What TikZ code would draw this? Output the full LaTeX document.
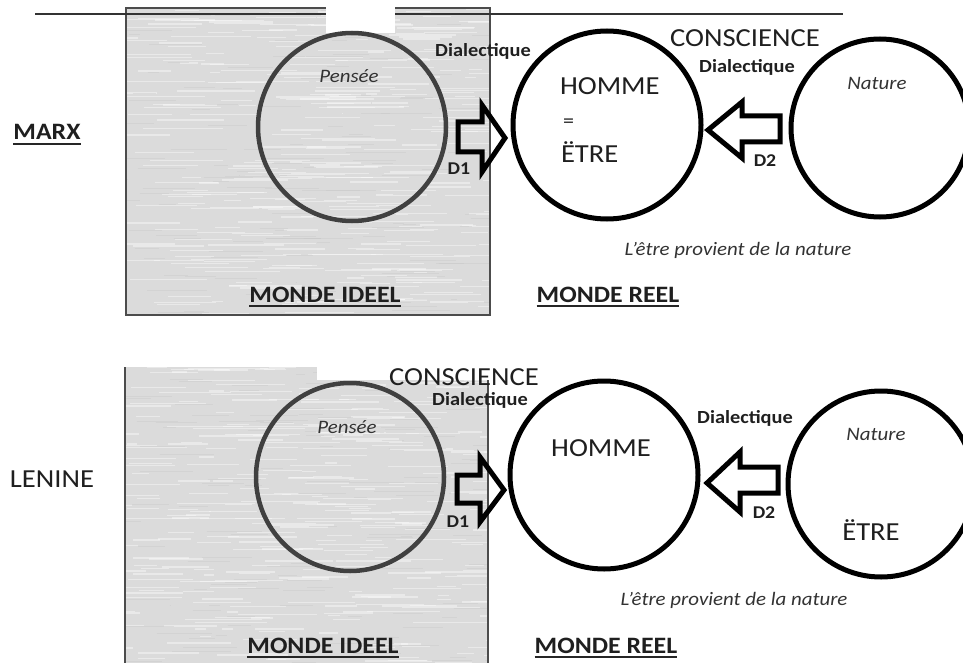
\documentclass[tikz,border=0pt]{standalone}
\usepackage{fontspec}
\setmainfont{Carlito}[FakeStretch=1.1]
\begin{document}
\begin{tikzpicture}[x=1pt,y=-1pt,
  t/.style={inner sep=0pt, outer sep=0pt, anchor=base, text=black!88},
  big/.style={t, font=\fontsize{26}{28}\selectfont},
  hd/.style={t, font=\bfseries\fontsize{23.5}{26}\selectfont},
  dia/.style={t, font=\bfseries\fontsize{18.5}{20}\selectfont},
  dd/.style={t, font=\bfseries\fontsize{18}{20}\selectfont},
  itl/.style={t, font=\itshape\fontsize{19}{21}\selectfont, text=black!80},
  pens/.style={circle, draw=black!75, line width=4.5pt, inner sep=0pt},
  reel/.style={circle, draw=black, line width=5pt, inner sep=0pt},
  blockarrow/.style={draw=black, line width=5pt, line join=miter},
  ulline/.style={draw=black!85, line width=1.8pt},
  boxgrey/.style={fill=black!14},
]
\useasboundingbox (0,0) rectangle (963,663);
\fill[white] (0,0) rectangle (963,663);

% ---------- top grey box ----------
\fill[boxgrey] (126,8) rectangle (490,315);
\begin{scope}
  \clip (126,8) rectangle (490,315);
  \pgfmathsetseed{3}
  \foreach \i in {1,...,320}{
    \pgfmathsetmacro{\xx}{110+rnd*380}
    \pgfmathsetmacro{\yy}{8+rnd*307}
    \pgfmathsetmacro{\ll}{10+rnd*70}
    \draw[white, opacity=0.4, line width=1.3pt] (\xx,\yy) -- ++(\ll,0);
  }
  \foreach \i in {1,...,120}{
    \pgfmathsetmacro{\xx}{110+rnd*380}
    \pgfmathsetmacro{\yy}{8+rnd*307}
    \pgfmathsetmacro{\ll}{10+rnd*50}
    \draw[black!22, opacity=0.4, line width=1pt] (\xx,\yy) -- ++(\ll,0);
  }
\end{scope}
\draw[black!70, line width=1.3pt] (126,8) rectangle (490,315);
\draw[black!80, line width=1.5pt] (35,14) -- (843,14);
\fill[white] (326,6) rectangle (395,33);

% ---------- bottom grey box ----------
\fill[boxgrey] (125,367) rectangle (488,663);
\begin{scope}
  \clip (125,367) rectangle (488,663);
  \pgfmathsetseed{11}
  \foreach \i in {1,...,320}{
    \pgfmathsetmacro{\xx}{110+rnd*380}
    \pgfmathsetmacro{\yy}{367+rnd*296}
    \pgfmathsetmacro{\ll}{10+rnd*70}
    \draw[white, opacity=0.4, line width=1.3pt] (\xx,\yy) -- ++(\ll,0);
  }
  \foreach \i in {1,...,120}{
    \pgfmathsetmacro{\xx}{110+rnd*380}
    \pgfmathsetmacro{\yy}{367+rnd*296}
    \pgfmathsetmacro{\ll}{10+rnd*50}
    \draw[black!22, opacity=0.4, line width=1pt] (\xx,\yy) -- ++(\ll,0);
  }
\end{scope}
\fill[white] (317,366) rectangle (490,380);
\draw[black!70, line width=1.3pt] (125,367) -- (125,663);
\draw[black!70, line width=1.3pt] (488,380) -- (488,663);

% ---------- circles ----------
\node[pens, minimum size=188pt] (pensee1) at (352,127) {};
\node[reel, minimum size=188pt] (homme1) at (607,125) {};
\node[reel, minimum size=178pt] (nature1) at (880,128) {};
\node[pens, minimum size=188pt] (pensee2) at (350,477) {};
\node[reel, minimum size=188pt] (homme2) at (604,475) {};
\node[reel, minimum size=186pt] (nature2) at (881,484) {};

% ---------- block arrows ----------
\draw[blockarrow] (458,122) -- (482,122) -- (482,105) -- (505,138) -- (482,172) -- (482,152) -- (458,152) -- cycle;
\draw[blockarrow] (780,116) -- (742,116) -- (742,102) -- (708,130) -- (742,158) -- (742,142) -- (780,142) -- cycle;
\draw[blockarrow] (457,475) -- (480,475) -- (480,457) -- (504,490) -- (480,522) -- (480,503) -- (457,503) -- cycle;
\draw[blockarrow] (778,467) -- (740,467) -- (740,452) -- (707,483) -- (740,512) -- (740,493) -- (778,493) -- cycle;

% ---------- texts top ----------
\node[hd] (marx) at (47,140) {MARX};
\draw[ulline] ([yshift=-4pt]marx.base west) -- ([yshift=-4pt]marx.base east);
\node[itl] (pen1) at (349,83) {Pensée};
\node[dia] (dia1) at (483,57) {Dialectique};
\node[hd] (ideel1) at (325,302) {MONDE IDEEL};
\draw[ulline] ([yshift=-4pt]ideel1.base west) -- ([yshift=-4pt]ideel1.base east);
\node[big] (consc1) at (745,47) {CONSCIENCE};
\node[dia] (dia2) at (747,73) {Dialectique};
\node[big, anchor=base west] (hom1) at (560,95) {HOMME};
\node[t, anchor=base west, font=\fontsize{20}{22}\selectfont] (eq1) at (563,128) {=};
\node[big, anchor=base west] (etre1) at (561,163) {ËTRE};
\node[dd] (d1a) at (459,175) {D1};
\node[dd] (d2a) at (765,167) {D2};
\node[itl] (nat1) at (877,90) {Nature};
\node[itl] (prov1) at (738,255) {L'être provient de la nature};
\node[hd] (reel1) at (608,302) {MONDE REEL};
\draw[ulline] ([yshift=-4pt]reel1.base west) -- ([yshift=-4pt]reel1.base east);

% ---------- texts bottom ----------
\node[big] (lenine) at (52,487) {LENINE};
\node[itl] (pen2) at (347,433) {Pensée};
\node[big] (consc2) at (464,385) {CONSCIENCE};
\node[dia] (dia3) at (480,405) {Dialectique};
\node[hd] (ideel2) at (323,653) {MONDE IDEEL};
\draw[ulline] ([yshift=-4pt]ideel2.base west) -- ([yshift=-4pt]ideel2.base east);
\node[big] (hom2) at (601,456) {HOMME};
\node[dia] (dia4) at (745,423) {Dialectique};
\node[dd] (d1b) at (458,527) {D1};
\node[dd] (d2b) at (764,518) {D2};
\node[itl] (nat2) at (876,440) {Nature};
\node[big] (etre2) at (871,540) {ËTRE};
\node[itl] (prov2) at (734,605) {L'être provient de la nature};
\node[hd] (reel2) at (606,653) {MONDE REEL};
\draw[ulline] ([yshift=-4pt]reel2.base west) -- ([yshift=-4pt]reel2.base east);
\end{tikzpicture}
\end{document}
